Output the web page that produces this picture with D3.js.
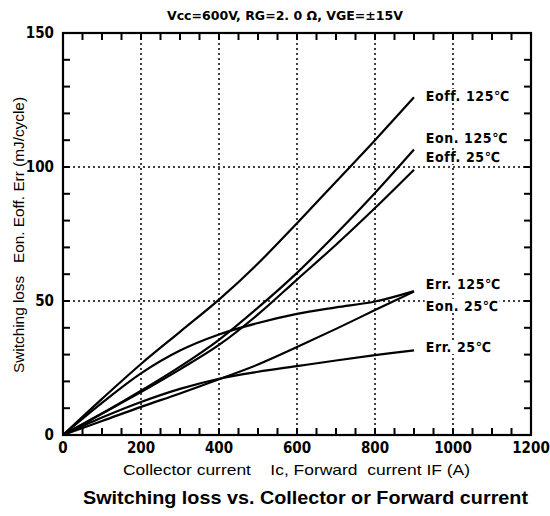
<!DOCTYPE html>
<html>
<head>
<meta charset="utf-8">
<script src="https://cdn.jsdelivr.net/npm/d3@7"></script>
<style>
  body { margin: 0; background: #fff; }
  svg { display: block; }
  text { white-space: pre; fill: #000; }
  .cond { font-family: "DejaVu Sans Condensed", "DejaVu Sans", sans-serif; font-stretch: condensed; font-weight: bold; }
  .plain { font-family: "Liberation Sans", Arial, sans-serif; }
</style>
</head>
<body>
<div id="chart"></div>
<script>
// current (A) sample points shared by all curves
const current = [0, 100, 200, 300, 400, 500, 600, 700, 800, 900];

// switching loss (mJ/cycle)
const eoff125 = [0, 13.5, 26.5, 38.5, 50.5, 64, 79, 94.5, 110, 126];
const eon125  = [0, 8, 16.5, 25.5, 35.5, 47.5, 60.5, 75, 90.3, 106.5];
const eoff25  = [0, 8, 16, 24.5, 33.6, 45, 58, 71, 84.7, 99];
const err125  = [0, 12, 23, 31.5, 37.5, 41.8, 45.2, 47.6, 49.8, 53.7];
const eon25   = [0, 5.2, 10.5, 15.5, 20.8, 26.3, 32.8, 39.6, 46.6, 53.5];
const err25   = [0, 6.5, 12.3, 17.2, 21, 23.6, 25.7, 27.8, 29.8, 31.6];

const seriesNames = ["Eoff. 125℃", "Eon. 125℃", "Eoff. 25℃", "Err. 125℃", "Eon. 25℃", "Err. 25℃"];
const seriesValues = [eoff125, eon125, eoff25, err125, eon25, err25];
// label anchor (loss value) beside each curve end
const labelAt = [126.5, 110.8, 103.7, 56.3, 48.1, 32.8];

const xTicks = [0, 200, 400, 600, 800, 1000, 1200];
const yTicks = [0, 50, 100, 150];

const width = 550, height = 516;
const margin = { left: 63, right: 19, top: 33, bottom: 81 };

const svg = d3.select("#chart").append("svg")
  .attr("width", width)
  .attr("height", height);

const x = d3.scaleLinear().domain([0, 1200]).range([margin.left, width - margin.right]);
const y = d3.scaleLinear().domain([0, 150]).range([height - margin.bottom, margin.top]);

// dotted grid
const grid = svg.append("g")
  .attr("stroke", "#000")
  .attr("stroke-width", 1.5)
  .attr("stroke-dasharray", "2,3");

grid.selectAll(".gx")
  .data(xTicks.slice(1, -1))
  .enter()
  .append("line")
  .attr("x1", d => x(d)).attr("x2", d => x(d))
  .attr("y1", y(0)).attr("y2", y(150));

grid.selectAll(".gy")
  .data(yTicks.slice(1, -1))
  .enter()
  .append("line")
  .attr("x1", x(0)).attr("x2", x(1200))
  .attr("y1", d => y(d)).attr("y2", d => y(d));

// inward ticks on all four sides
const minorX = d3.range(0, 1201, 50);
const minorY = d3.range(0, 151, 10);
const tk = 7;

function tickLines(data, pos, horizontal, at, dir) {
  svg.append("g")
    .selectAll("line")
    .data(data)
    .enter()
    .append("line")
    .attr("x1", d => horizontal ? pos(d) : at)
    .attr("x2", d => horizontal ? pos(d) : at + dir * tk)
    .attr("y1", d => horizontal ? at : pos(d))
    .attr("y2", d => horizontal ? at + dir * tk : pos(d))
    .attr("stroke", "#000")
    .attr("stroke-width", 2);
}

tickLines(minorX, x, true, y(0), -1);
tickLines(minorX, x, true, y(150), 1);
tickLines(minorY, y, false, x(0), 1);
tickLines(minorY, y, false, x(1200), -1);

// frame
svg.append("rect")
  .attr("x", x(0)).attr("y", y(150))
  .attr("width", x(1200) - x(0))
  .attr("height", y(0) - y(150))
  .attr("fill", "none")
  .attr("stroke", "#000")
  .attr("stroke-width", 2.2);

// tick labels
svg.selectAll(".xl")
  .data(xTicks)
  .enter()
  .append("text")
  .attr("class", "cond")
  .attr("x", d => x(d))
  .attr("y", y(0) + 18)
  .attr("text-anchor", "middle")
  .attr("font-size", 15)
  .text(d => d);

svg.selectAll(".yl")
  .data(yTicks)
  .enter()
  .append("text")
  .attr("class", "cond")
  .attr("x", x(0) - 9)
  .attr("y", d => y(d) + 5)
  .attr("text-anchor", "end")
  .attr("font-size", 15)
  .text(d => d);

// curves
const line = d3.line()
  .x((d, i) => x(current[i]))
  .y(d => y(d))
  .curve(d3.curveCatmullRom);

svg.append("g")
  .selectAll("path")
  .data(seriesValues)
  .enter()
  .append("path")
  .attr("d", d => line(d))
  .attr("fill", "none")
  .attr("stroke", "#000")
  .attr("stroke-width", 2.2);

// curve labels with white backing so the grid breaks around them
const labels = svg.append("g")
  .selectAll("g")
  .data(seriesNames)
  .enter()
  .append("g")
  .attr("transform", (d, i) => `translate(${x(930)},${y(labelAt[i])})`);

labels.append("text")
  .attr("class", "cond")
  .attr("font-size", 14)
  .attr("letter-spacing", 0.6)
  .attr("dy", "0.35em")
  .text(d => d);

labels.each(function () {
  const g = d3.select(this);
  const bb = g.select("text").node().getBBox();
  g.insert("rect", "text")
    .attr("x", bb.x - 1).attr("y", bb.y + 1)
    .attr("width", bb.width + 2).attr("height", bb.height - 2)
    .attr("fill", "#fff");
});

// titles
svg.append("text")
  .attr("class", "cond")
  .attr("x", 167)
  .attr("y", 20)
  .attr("font-size", 13)
  .attr("textLength", 236)
  .attr("lengthAdjust", "spacingAndGlyphs")
  .text("Vcc=600V, RG=2. 0 Ω, VGE=±15V");

svg.append("text")
  .attr("class", "plain")
  .attr("x", 123)
  .attr("y", 475)
  .attr("font-size", 15)
  .attr("textLength", 347)
  .attr("lengthAdjust", "spacingAndGlyphs")
  .text("Collector current    Ic, Forward  current IF (A)");

svg.append("text")
  .attr("class", "plain")
  .attr("x", 83)
  .attr("y", 504)
  .attr("font-size", 17.5)
  .attr("font-weight", "bold")
  .attr("textLength", 445)
  .attr("lengthAdjust", "spacingAndGlyphs")
  .text("Switching loss vs. Collector or Forward current");

svg.append("text")
  .attr("class", "plain")
  .attr("transform", `translate(24,373) rotate(-90)`)
  .attr("font-size", 15)
  .attr("textLength", 276)
  .attr("lengthAdjust", "spacingAndGlyphs")
  .text("Switching loss   Eon. Eoff. Err (mJ/cycle)");
</script>
</body>
</html>
